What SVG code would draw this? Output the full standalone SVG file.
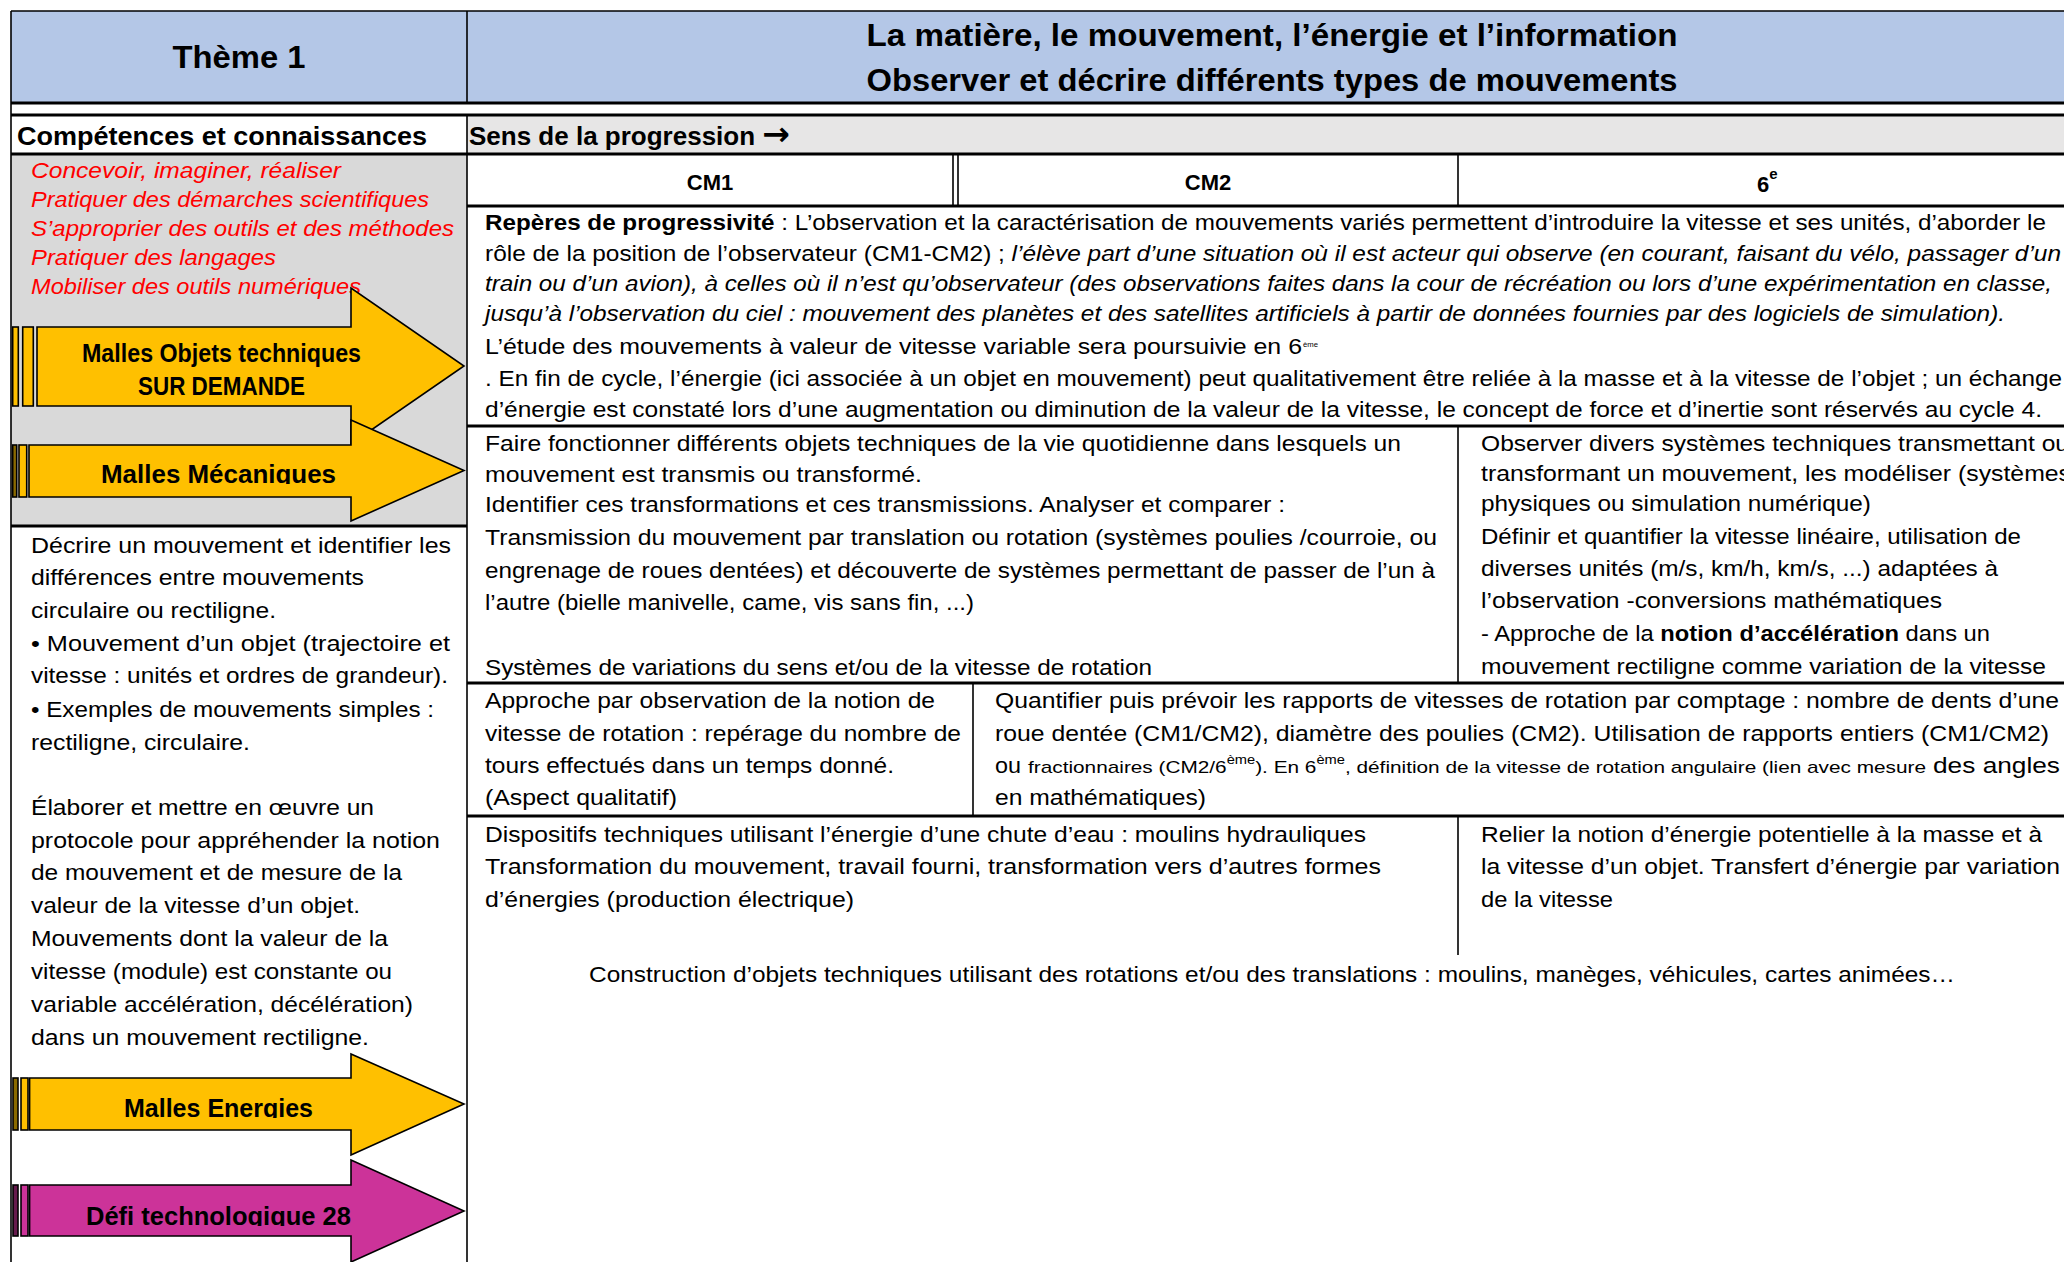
<svg xmlns="http://www.w3.org/2000/svg" width="2064" height="1262" viewBox="0 0 2064 1262">
<style>
text{font-family:"Liberation Sans",Arial,sans-serif;fill:#000}
.t{font-size:21.5px}
.r{font-size:22px;font-style:italic;fill:#FF0000}
.h{font-size:31px;font-weight:bold}
.s{font-size:26px;font-weight:bold}
.c{font-size:22px;font-weight:bold}
.al{font-size:25px;font-weight:bold}
.b{font-weight:bold}
.i{font-style:italic}
.th{stroke:#000;stroke-width:3;fill:none}
.tn{stroke:#000;stroke-width:1.6;fill:none}
.ay{fill:#FFC000;stroke:#000;stroke-width:1.6;stroke-linejoin:miter}
.am{fill:#CC3399;stroke:#000;stroke-width:1.6;stroke-linejoin:miter}
</style>
<defs>
<clipPath id="cl2"><rect x="0" y="400" width="470" height="84"/></clipPath>
<clipPath id="cl3"><rect x="0" y="1050" width="470" height="68"/></clipPath>
<clipPath id="cl4"><rect x="0" y="1160" width="470" height="66"/></clipPath>
</defs>
<rect width="2064" height="1262" fill="#fff"/>
<g id="fills">
<rect x="11" y="11" width="2060" height="92" fill="#B4C7E7"/>
<rect x="467" y="115" width="1600" height="39" fill="#E7E6E6"/>
<rect x="11" y="154" width="456" height="372" fill="#D9D9D9"/>
</g>
<g id="table-lines">
<line class="tn" x1="11" y1="11" x2="2064" y2="11"/>
<line class="th" x1="11" y1="103" x2="2064" y2="103"/>
<line class="th" x1="11" y1="115" x2="2064" y2="115"/>
<line class="th" x1="11" y1="154" x2="2064" y2="154"/>
<line class="th" x1="467" y1="206" x2="2064" y2="206"/>
<line class="th" x1="467" y1="426" x2="2064" y2="426"/>
<line class="th" x1="11" y1="526" x2="467" y2="526"/>
<line class="th" x1="467" y1="683" x2="2064" y2="683"/>
<line class="th" x1="467" y1="816" x2="2064" y2="816"/>
<line class="tn" x1="11" y1="11" x2="11" y2="1262"/>
<line class="tn" x1="467" y1="11" x2="467" y2="103"/>
<line class="tn" x1="467" y1="115" x2="467" y2="1262"/>
<line class="tn" x1="953" y1="154" x2="953" y2="206"/>
<line class="tn" x1="958" y1="154" x2="958" y2="206"/>
<line class="tn" x1="1458" y1="154" x2="1458" y2="206"/>
<line class="tn" x1="1458" y1="426" x2="1458" y2="683"/>
<line class="tn" x1="1458" y1="816" x2="1458" y2="955"/>
<line class="tn" x1="973" y1="683" x2="973" y2="816"/>
</g>
<g id="header">
<text class="h" x="239" y="68" text-anchor="middle" textLength="133" lengthAdjust="spacingAndGlyphs">Thème 1</text>
<text class="h" x="1272" y="46" text-anchor="middle" textLength="811" lengthAdjust="spacingAndGlyphs">La matière, le mouvement, l’énergie et l’information</text>
<text class="h" x="1272" y="91" text-anchor="middle" textLength="811" lengthAdjust="spacingAndGlyphs">Observer et décrire différents types de mouvements</text>
</g>
<g id="row-heads">
<text class="s" x="17" y="145" textLength="410" lengthAdjust="spacingAndGlyphs">Compétences et connaissances</text>
<text class="s" x="469" y="145" font-size="24">Sens de la progression <tspan font-family="'DejaVu Sans',sans-serif" font-size="33">→</tspan></text>
<text class="c" x="710" y="190" text-anchor="middle">CM1</text>
<text class="c" x="1208" y="190" text-anchor="middle">CM2</text>
<text class="c" x="1757" y="192">6<tspan font-size="15" dy="-13">e</tspan></text>
</g>
<g id="competences">
<text class="r" x="31" y="178" textLength="310" lengthAdjust="spacingAndGlyphs">Concevoir, imaginer, réaliser</text>
<text class="r" x="31" y="207" textLength="398" lengthAdjust="spacingAndGlyphs">Pratiquer des démarches scientifiques</text>
<text class="r" x="31" y="236" textLength="423" lengthAdjust="spacingAndGlyphs">S’approprier des outils et des méthodes</text>
<text class="r" x="31" y="265" textLength="245" lengthAdjust="spacingAndGlyphs">Pratiquer des langages</text>
<text class="r" x="31" y="294" textLength="330" lengthAdjust="spacingAndGlyphs">Mobiliser des outils numériques</text>
</g>
<g id="arrow-objets">
<rect class="ay" x="12.7" y="327" width="5.6" height="79"/>
<rect class="ay" x="22.7" y="327" width="10.6" height="79"/>
<path class="ay" d="M37,327 H351 V288 L464,366 L351,444 V406 H37 Z"/>
<text class="al" x="221.5" y="362" text-anchor="middle" font-size="23" textLength="279" lengthAdjust="spacingAndGlyphs">Malles Objets techniques</text>
<text class="al" x="221.5" y="395" text-anchor="middle" font-size="23" textLength="167" lengthAdjust="spacingAndGlyphs">SUR DEMANDE</text>
</g>
<g id="arrow-mecaniques">
<rect x="12.7" y="445" width="4" height="52" fill="#8a6a00" stroke="#000" stroke-width="1.6"/>
<rect class="ay" x="19" y="445" width="7.7" height="52"/>
<path class="ay" d="M29,445 H351 V420 L464,470.5 L351,521 V497 H29 Z"/>
<text class="al" x="218.5" y="483" text-anchor="middle" clip-path="url(#cl2)" textLength="235" lengthAdjust="spacingAndGlyphs">Malles Mécaniques</text>
</g>
<g id="decrire">
<text class="t" x="31" y="553" textLength="420" lengthAdjust="spacingAndGlyphs">Décrire un mouvement et identifier les</text>
<text class="t" x="31" y="585" textLength="333" lengthAdjust="spacingAndGlyphs">différences entre mouvements</text>
<text class="t" x="31" y="618" textLength="245" lengthAdjust="spacingAndGlyphs">circulaire ou rectiligne.</text>
<text class="t" x="31" y="651" textLength="419" lengthAdjust="spacingAndGlyphs">• Mouvement d’un objet (trajectoire et</text>
<text class="t" x="31" y="683" textLength="417" lengthAdjust="spacingAndGlyphs">vitesse : unités et ordres de grandeur).</text>
<text class="t" x="31" y="717" textLength="403" lengthAdjust="spacingAndGlyphs">• Exemples de mouvements simples :</text>
<text class="t" x="31" y="750" textLength="219" lengthAdjust="spacingAndGlyphs">rectiligne, circulaire.</text>
<text class="t" x="31" y="815" textLength="343" lengthAdjust="spacingAndGlyphs">Élaborer et mettre en œuvre un</text>
<text class="t" x="31" y="848" textLength="409" lengthAdjust="spacingAndGlyphs">protocole pour appréhender la notion</text>
<text class="t" x="31" y="880" textLength="371" lengthAdjust="spacingAndGlyphs">de mouvement et de mesure de la</text>
<text class="t" x="31" y="913" textLength="329" lengthAdjust="spacingAndGlyphs">valeur de la vitesse d’un objet.</text>
<text class="t" x="31" y="946" textLength="357" lengthAdjust="spacingAndGlyphs">Mouvements dont la valeur de la</text>
<text class="t" x="31" y="979" textLength="361" lengthAdjust="spacingAndGlyphs">vitesse (module) est constante ou</text>
<text class="t" x="31" y="1012" textLength="382" lengthAdjust="spacingAndGlyphs">variable accélération, décélération)</text>
<text class="t" x="31" y="1045" textLength="338" lengthAdjust="spacingAndGlyphs">dans un mouvement rectiligne.</text>
</g>
<g id="arrow-energies">
<rect x="13" y="1078" width="5" height="52" fill="#8a6a00" stroke="#000" stroke-width="1.6"/>
<rect class="ay" x="21" y="1078" width="7" height="52"/>
<path class="ay" d="M29.6,1078 H351 V1054 L464,1104 L351,1155 V1130 H29.6 Z"/>
<text class="al" x="218.5" y="1117" text-anchor="middle" clip-path="url(#cl3)" textLength="189" lengthAdjust="spacingAndGlyphs">Malles Energies</text>
</g>
<g id="arrow-defi">
<rect x="13" y="1185" width="5" height="51" fill="#661a4d" stroke="#000" stroke-width="1.6"/>
<rect class="am" x="21" y="1185" width="7" height="51"/>
<path class="am" d="M29.6,1185 H351 V1160 L464,1211 L351,1262 V1236 H29.6 Z"/>
<text class="al" x="218.5" y="1225" text-anchor="middle" clip-path="url(#cl4)" textLength="265" lengthAdjust="spacingAndGlyphs">Défi technologique 28</text>
</g>
<g id="reperes">
<text class="t" x="485" y="230" textLength="1561" lengthAdjust="spacingAndGlyphs"><tspan class="b">Repères de progressivité</tspan> : L’observation et la caractérisation de mouvements variés permettent d’introduire la vitesse et ses unités, d’aborder le</text>
<text class="t" x="485" y="261" textLength="1576" lengthAdjust="spacingAndGlyphs">rôle de la position de l’observateur (CM1-CM2) ; <tspan class="i">l’élève part d’une situation où il est acteur qui observe (en courant, faisant du vélo, passager d’un</tspan></text>
<text class="t i" x="485" y="291" textLength="1567" lengthAdjust="spacingAndGlyphs">train ou d’un avion), à celles où il n’est qu’observateur (des observations faites dans la cour de récréation ou lors d’une expérimentation en classe,</text>
<text class="t i" x="485" y="321" textLength="1520" lengthAdjust="spacingAndGlyphs">jusqu’à l’observation du ciel : mouvement des planètes et des satellites artificiels à partir de données fournies par des logiciels de simulation).</text>
<text class="t" x="485" y="354" textLength="817" lengthAdjust="spacingAndGlyphs">L’étude des mouvements à valeur de vitesse variable sera poursuivie en 6</text>
<text x="1303" y="347" font-size="8" textLength="15" lengthAdjust="spacingAndGlyphs">ème</text>
<text class="t" x="485" y="386" textLength="1577" lengthAdjust="spacingAndGlyphs">. En fin de cycle, l’énergie (ici associée à un objet en mouvement) peut qualitativement être reliée à la masse et à la vitesse de l’objet ; un échange</text>
<text class="t" x="485" y="417" textLength="1557" lengthAdjust="spacingAndGlyphs">d’énergie est constaté lors d’une augmentation ou diminution de la valeur de la vitesse, le concept de force et d’inertie sont réservés au cycle 4.</text>
</g>
<g id="transmission-cm">
<text class="t" x="485" y="451" textLength="916" lengthAdjust="spacingAndGlyphs">Faire fonctionner différents objets techniques de la vie quotidienne dans lesquels un</text>
<text class="t" x="485" y="482" textLength="437" lengthAdjust="spacingAndGlyphs">mouvement est transmis ou transformé.</text>
<text class="t" x="485" y="512" textLength="800" lengthAdjust="spacingAndGlyphs">Identifier ces transformations et ces transmissions. Analyser et comparer :</text>
<text class="t" x="485" y="545" textLength="952" lengthAdjust="spacingAndGlyphs">Transmission du mouvement par translation ou rotation (systèmes poulies /courroie, ou</text>
<text class="t" x="485" y="578" textLength="950" lengthAdjust="spacingAndGlyphs">engrenage de roues dentées) et découverte de systèmes permettant de passer de l’un à</text>
<text class="t" x="485" y="610" textLength="489" lengthAdjust="spacingAndGlyphs">l’autre (bielle manivelle, came, vis sans fin, ...)</text>
<text class="t" x="485" y="675" textLength="667" lengthAdjust="spacingAndGlyphs">Systèmes de variations du sens et/ou de la vitesse de rotation</text>
</g>
<g id="transmission-6e">
<text class="t" x="1481" y="451" textLength="588" lengthAdjust="spacingAndGlyphs">Observer divers systèmes techniques transmettant ou</text>
<text class="t" x="1481" y="481" textLength="590" lengthAdjust="spacingAndGlyphs">transformant un mouvement, les modéliser (systèmes</text>
<text class="t" x="1481" y="511" textLength="390" lengthAdjust="spacingAndGlyphs">physiques ou simulation numérique)</text>
<text class="t" x="1481" y="544" textLength="540" lengthAdjust="spacingAndGlyphs">Définir et quantifier la vitesse linéaire, utilisation de</text>
<text class="t" x="1481" y="576" textLength="517" lengthAdjust="spacingAndGlyphs">diverses unités (m/s, km/h, km/s, ...) adaptées à</text>
<text class="t" x="1481" y="608" textLength="461" lengthAdjust="spacingAndGlyphs">l’observation -conversions mathématiques</text>
<text class="t" x="1481" y="641" textLength="509" lengthAdjust="spacingAndGlyphs">- Approche de la <tspan class="b">notion d’accélération</tspan> dans un</text>
<text class="t" x="1481" y="674" textLength="565" lengthAdjust="spacingAndGlyphs">mouvement rectiligne comme variation de la vitesse</text>
</g>
<g id="rotation-cm1">
<text class="t" x="485" y="708" textLength="450" lengthAdjust="spacingAndGlyphs">Approche par observation de la notion de</text>
<text class="t" x="485" y="741" textLength="476" lengthAdjust="spacingAndGlyphs">vitesse de rotation : repérage du nombre de</text>
<text class="t" x="485" y="773" textLength="409" lengthAdjust="spacingAndGlyphs">tours effectués dans un temps donné.</text>
<text class="t" x="485" y="805" textLength="192" lengthAdjust="spacingAndGlyphs">(Aspect qualitatif)</text>
</g>
<g id="rotation-cm2-6e">
<text class="t" x="995" y="708" textLength="1064" lengthAdjust="spacingAndGlyphs">Quantifier puis prévoir les rapports de vitesses de rotation par comptage : nombre de dents d’une</text>
<text class="t" x="995" y="741" textLength="1054" lengthAdjust="spacingAndGlyphs">roue dentée (CM1/CM2), diamètre des poulies (CM2). Utilisation de rapports entiers (CM1/CM2)</text>
<text class="t" x="995" y="773" textLength="26" lengthAdjust="spacingAndGlyphs">ou</text>
<text x="1028" y="773" font-size="17" textLength="898" lengthAdjust="spacingAndGlyphs">fractionnaires (CM2/6<tspan font-size="12" dy="-9">ème</tspan><tspan dy="9">). En 6</tspan><tspan font-size="12" dy="-9">ème</tspan><tspan dy="9">, définition de la vitesse de rotation angulaire (lien avec mesure</tspan></text>
<text class="t" x="1933" y="773" textLength="127" lengthAdjust="spacingAndGlyphs">des angles</text>
<text class="t" x="995" y="805" textLength="211" lengthAdjust="spacingAndGlyphs">en mathématiques)</text>
</g>
<g id="energie-cm">
<text class="t" x="485" y="842" textLength="881" lengthAdjust="spacingAndGlyphs">Dispositifs techniques utilisant l’énergie d’une chute d’eau : moulins hydrauliques</text>
<text class="t" x="485" y="874" textLength="896" lengthAdjust="spacingAndGlyphs">Transformation du mouvement, travail fourni, transformation vers d’autres formes</text>
<text class="t" x="485" y="907" textLength="369" lengthAdjust="spacingAndGlyphs">d’énergies (production électrique)</text>
</g>
<g id="energie-6e">
<text class="t" x="1481" y="842" textLength="561" lengthAdjust="spacingAndGlyphs">Relier la notion d’énergie potentielle à la masse et à</text>
<text class="t" x="1481" y="874" textLength="579" lengthAdjust="spacingAndGlyphs">la vitesse d’un objet. Transfert d’énergie par variation</text>
<text class="t" x="1481" y="907" textLength="132" lengthAdjust="spacingAndGlyphs">de la vitesse</text>
</g>
<g id="construction">
<text class="t" x="1272" y="982" text-anchor="middle" textLength="1366" lengthAdjust="spacingAndGlyphs">Construction d’objets techniques utilisant des rotations et/ou des translations : moulins, manèges, véhicules, cartes animées…</text>
</g>
</svg>
